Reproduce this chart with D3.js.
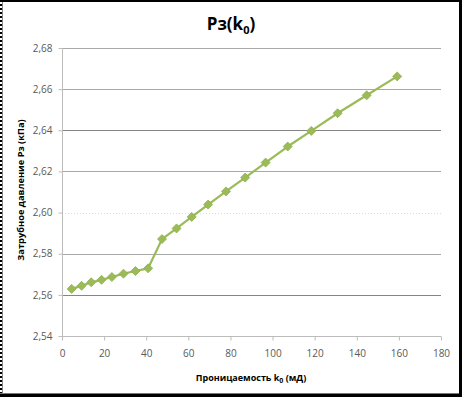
<!DOCTYPE html>
<html><head><meta charset="utf-8">
<script src="https://cdn.jsdelivr.net/npm/d3@7"></script>
<style>body{margin:0;background:#fff;} svg{display:block;}</style>
</head><body>
<svg id="c" width="462" height="397"></svg>
<script>
const permeability = [4.6, 9.3, 13.9, 18.8, 23.7, 29.2, 34.9, 40.9, 47.5, 54.4, 61.6, 69.4, 77.9, 87.0, 96.7, 107.2, 118.4, 130.9, 144.7, 159.2];
const pressure = [2.5629, 2.5644, 2.5661, 2.5673, 2.5687, 2.5703, 2.5716, 2.5729, 2.5871, 2.5923, 2.5979, 2.6039, 2.6103, 2.6170, 2.6243, 2.6321, 2.6397, 2.6483, 2.6570, 2.6662];
const xTicks = [0, 20, 40, 60, 80, 100, 120, 140, 160, 180];
const yTicks = [2.54, 2.56, 2.58, 2.60, 2.62, 2.64, 2.66, 2.68];

const svg = d3.select("#c");
const font = "'Open Sans', 'Liberation Sans', sans-serif";
const L = 62, R = 441, T = 48, B = 336;
const x = d3.scaleLinear().domain([0, 180]).range([L, R]);
const y = d3.scaleLinear().domain([2.54, 2.68]).range([B, T]);

// frame
svg.append("rect").attr("x",0).attr("y",0).attr("width",462).attr("height",397).attr("fill","#fff");
svg.append("rect").attr("x",0).attr("y",0).attr("width",462).attr("height",2).attr("fill","#000");
svg.append("line").attr("x1",1).attr("x2",1).attr("y1",0).attr("y2",397).attr("stroke","#000").attr("stroke-width",2).attr("stroke-dasharray","2,2");
svg.append("line").attr("x1",2.5).attr("x2",2.5).attr("y1",2).attr("y2",394).attr("stroke","#888").attr("stroke-width",1);
svg.append("rect").attr("x",459).attr("y",0).attr("width",3).attr("height",397).attr("fill","#000");
svg.append("rect").attr("x",0).attr("y",394).attr("width",462).attr("height",3).attr("fill","#000");
svg.append("line").attr("x1",0).attr("x2",459).attr("y1",393.5).attr("y2",393.5).attr("stroke","#777");

// gridlines
const gridStyle = v => {
  const k = Math.round(v*100);
  if (k === 264 || k === 256) return {c:"#858585", d:null};
  if (k === 260) return {c:"#dcdcdc", d:"1,2"};
  return {c:"#a8a8a8", d:null};
};
yTicks.filter(v => v > 2.545).forEach(v => {
  const s = gridStyle(v);
  svg.append("line").attr("x1",L).attr("x2",R).attr("y1",Math.round(y(v))+0.5).attr("y2",Math.round(y(v))+0.5)
    .attr("stroke",s.c).attr("stroke-width",1).attr("stroke-dasharray",s.d);
});

// axes
const yAxis = d3.axisLeft(y).tickValues(yTicks).tickSize(4).tickPadding(6)
  .tickFormat(d => d3.format(".2f")(d).replace(".", ","));
const gy = svg.append("g").attr("transform",`translate(${L+0.5},0)`).call(yAxis);
gy.select(".domain").attr("stroke","#bcbcbc").attr("d",`M0,${T}V${B}`);
gy.selectAll(".tick line").attr("stroke","#bcbcbc");
gy.selectAll(".tick text").attr("fill","#595959").style("font-family",font).style("font-size","10px");

const xAxis = d3.axisBottom(x).tickValues(xTicks).tickSize(4).tickPadding(9);
const gx = svg.append("g").attr("transform",`translate(0,${B+0.5})`).call(xAxis);
gx.select(".domain").attr("stroke","#bcbcbc").attr("d",`M${L},0H${R}`);
gx.selectAll(".tick line").attr("stroke","#bcbcbc");
gx.selectAll(".tick text").attr("fill","#595959").style("font-family",font).style("font-size","10px");

// line + markers
const data = permeability.map((k,i) => ({k, p: pressure[i]}));
svg.append("path").datum(data)
  .attr("fill","none").attr("stroke","#9bbb59").attr("stroke-width",2.25).attr("stroke-linejoin","round")
  .attr("d", d3.line().x(d => x(d.k)).y(d => y(d.p)));
svg.append("g").selectAll("path").data(data).join("path")
  .attr("transform", d => `translate(${x(d.k)},${y(d.p)})`)
  .attr("d","M0,-4.5L4.5,0L0,4.5L-4.5,0Z")
  .attr("fill","#9bbb59").attr("stroke","#8fb04c").attr("stroke-width",0.8);

// title
const title = svg.append("text").attr("x",231).attr("y",30).attr("text-anchor","middle")
  .style("font-family",font).style("font-weight","bold").style("font-size","17px").attr("fill","#000");
title.append("tspan").text("Pз(k");
title.append("tspan").text("0").attr("dy",4).style("font-size","11px");
title.append("tspan").text(")").attr("dy",-4);

// x label
const xl = svg.append("text").attr("x",251).attr("y",381).attr("text-anchor","middle")
  .style("font-family",font).style("font-weight","bold").style("font-size","9px").attr("fill","#000");
xl.append("tspan").text("Проницаемость k");
xl.append("tspan").text("0").attr("dy",2).style("font-size","7px");
xl.append("tspan").text(" (мД)").attr("dy",-2);

// y label
svg.append("text").attr("transform","translate(24,190) rotate(-90)").attr("text-anchor","middle")
  .style("font-family",font).style("font-weight","bold").style("font-size","9.3px").attr("fill","#000")
  .text("Затрубное давление Pз (кПа)");
</script>
</body></html>
